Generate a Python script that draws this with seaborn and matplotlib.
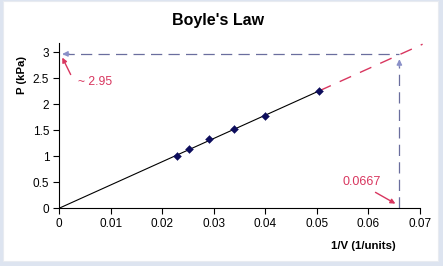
import numpy as np
import pandas as pd
import matplotlib
matplotlib.use("Agg")
import matplotlib.pyplot as plt
from matplotlib.patches import Rectangle
import seaborn as sns

# Data
inv_v = [0.0228, 0.0253, 0.0291, 0.0340, 0.0400, 0.0505]
pressure = [1.00, 1.15, 1.33, 1.53, 1.78, 2.25]
x_ticks = [0, 0.01, 0.02, 0.03, 0.04, 0.05, 0.06, 0.07]
x_tick_labels = ["0", "0.01", "0.02", "0.03", "0.04", "0.05", "0.06", "0.07"]
y_ticks = [0, 0.5, 1, 1.5, 2, 2.5, 3]
y_tick_labels = ["0", "0.5", "1", "1.5", "2", "2.5", "3"]
target_x = 0.066
target_y = 2.97
label_y = "~ 2.95"
label_x = "0.0667"

sns.set_style("white")
plt.rcParams['font.family'] = ['Liberation Sans', 'DejaVu Sans']
plt.rcParams['text.color'] = 'black'

df = pd.DataFrame({"x": inv_v, "P": pressure})
xa = np.array(inv_v); ya = np.array(pressure)
slope = (xa * ya).sum() / (xa * xa).sum()
fit_df = pd.DataFrame({"x": [0.0, inv_v[-1]], "P": [0.0, slope * inv_v[-1]]})
ext_df = pd.DataFrame({"x": [inv_v[-1], 0.0705], "P": [slope * inv_v[-1], slope * 0.0705]})

fig = plt.figure(figsize=(4.43, 2.66), dpi=100)
fig.patch.set_facecolor("#dde4f0")
fig.patches.append(Rectangle((3/443, 5/266), 435/443, 260/266, transform=fig.transFigure,
                             facecolor="white", edgecolor="#e8ebf0", lw=0.8, zorder=-10))
ax = fig.add_axes([59/443, 1 - 208.3/266, 361/443, 165.3/266])
ax.set_facecolor("none")
ax.set_zorder(5)

blue = "#6a6e9e"
red = "#d8365f"

sns.lineplot(data=ext_df, x="x", y="P", ax=ax, color=red, lw=1.0,
             linestyle=(0, (9, 7)), clip_on=False)
sns.lineplot(data=fit_df, x="x", y="P", ax=ax, color="black", lw=0.8)
sns.scatterplot(data=df, x="x", y="P", ax=ax, marker="D", s=16, color="#0d0d5c",
                edgecolor="#0d0d5c", zorder=5)

# dashed reading lines
ax.plot([0.0007, target_x], [target_y, target_y], color=blue, lw=0.9, linestyle=(0, (9, 5)))
ax.plot([target_x, target_x], [0, target_y - 0.12], color=blue, lw=0.9, linestyle=(0, (9, 5)))
ax.annotate("", xy=(0.0001, target_y), xytext=(0.0025, target_y),
            arrowprops=dict(arrowstyle="-|>", color="#8a90c8", lw=0.9, mutation_scale=8))
ax.annotate("", xy=(target_x, target_y - 0.05), xytext=(target_x, target_y - 0.3),
            arrowprops=dict(arrowstyle="-|>", color="#8a90c8", lw=0.9, mutation_scale=8))

# red annotations
ax.annotate("", xy=(0.0004, 2.948), xytext=(0.0025, 2.525),
            arrowprops=dict(arrowstyle="-|>", color=red, lw=1.0, mutation_scale=7))
ax.text(0.0036, 2.435, label_y, color=red, fontsize=8.8, va="center", ha="left")
ax.annotate("", xy=(0.0657, 0.063), xytext=(0.0609, 0.333),
            arrowprops=dict(arrowstyle="-|>", color=red, lw=1.0, mutation_scale=7))
ax.text(0.05875, 0.506, label_x, color=red, fontsize=9, va="center", ha="center")

ax.set_xlim(0, 0.07)
ax.set_ylim(0, 3.18)
ax.set_xticks(x_ticks)
ax.set_xticklabels(x_tick_labels)
ax.set_yticks(y_ticks)
ax.set_yticklabels(y_tick_labels)
ax.tick_params(axis="both", direction="out", length=4, width=0.8, labelsize=8.5,
               colors="black", pad=3, bottom=True, left=True)
for s in ["top", "right"]:
    ax.spines[s].set_visible(False)
for s in ["left", "bottom"]:
    ax.spines[s].set_color("black")
    ax.spines[s].set_linewidth(0.8)

ax.set_xlabel("")
ax.set_ylabel("")
fig.text(396/443, 1 - 246/266, "1/V (1/units)", fontsize=8.2, fontweight="bold",
         ha="right", va="center")
fig.text(22/443, 1 - 75/266, "P (kPa)", fontsize=8.2, fontweight="bold",
         ha="center", va="center", rotation=90)
fig.text(218/443, 1 - 21/266, "Boyle's Law", fontsize=11.5, fontweight="bold",
         ha="center", va="center")

fig.savefig("out.png", dpi=100, facecolor=fig.get_facecolor())
